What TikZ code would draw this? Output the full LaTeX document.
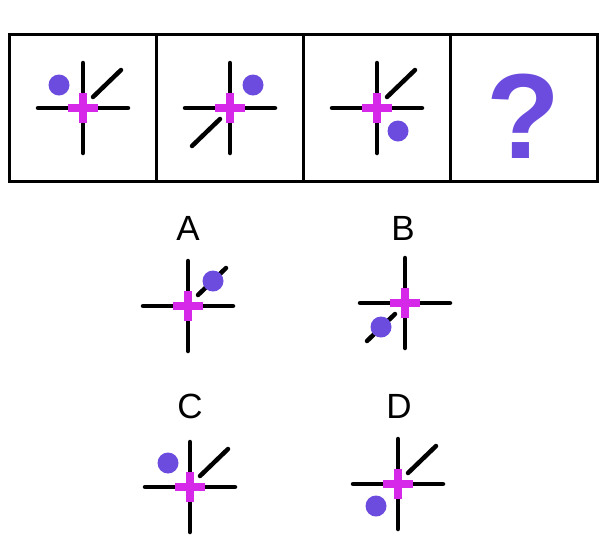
\documentclass[tikz,border=0pt]{standalone}
\usepackage{fontspec}
\setmainfont{Liberation Sans}
\usetikzlibrary{positioning}
\definecolor{dotpurple}{RGB}{108,76,222}
\definecolor{plusmag}{RGB}{214,40,232}
% one cross figure: centre x, centre y, diagonal signs x/y, dot offset
\newcommand{\crossfig}[5]{%
  \begin{scope}[shift={(#1,#2)}]
    \draw[armline] (-45,0) -- (45,0) (0,-45) -- (0,45);
    \draw[armline] (#3*10,#4*11) -- (#3*38,#4*38);
    \draw[plusline] (-15,0) -- (15,0) (0,-15) -- (0,15);
    \fill[dotpurple] (#5) circle (10.5);
  \end{scope}}

\begin{document}
\begin{tikzpicture}[
  x=1pt, y=-1pt,
  armline/.style={line width=4.5pt, line cap=round},
  plusline/.style={line width=8.5pt, plusmag},
  frame/.style={line width=3pt},
  optlab/.style={font=\fontsize{35}{35}\selectfont, anchor=base, inner sep=0pt},
  qmark/.style={font=\fontsize{121}{121}\bfseries, text=dotpurple, anchor=base, inner sep=0pt}
]
\useasboundingbox (0,0) rectangle (607,558);
% question row
\draw[frame] (9,34) rectangle (597,181);
\foreach \xx in {156,303,450} \draw[frame] (\xx,34) -- (\xx,181);
\crossfig{83}{108}{1}{-1}{-24,-23}
\crossfig{230}{108}{-1}{1}{23,-23}
\crossfig{377}{108}{1}{-1}{21,23}
\node[qmark] (quest) at (523,158) {?};
% answer options
\node[optlab] (labA) at (188,240) {A};
\node[optlab] (labB) at (403,240) {B};
\node[optlab] (labC) at (190,418) {C};
\node[optlab] (labD) at (399,418) {D};
\crossfig{188}{306}{1}{-1}{25,-25}
\crossfig{405}{303}{-1}{1}{-24,24}
\crossfig{190}{487}{1}{-1}{-22,-24}
\crossfig{398}{484}{1}{-1}{-22,22}
\end{tikzpicture}
\end{document}
